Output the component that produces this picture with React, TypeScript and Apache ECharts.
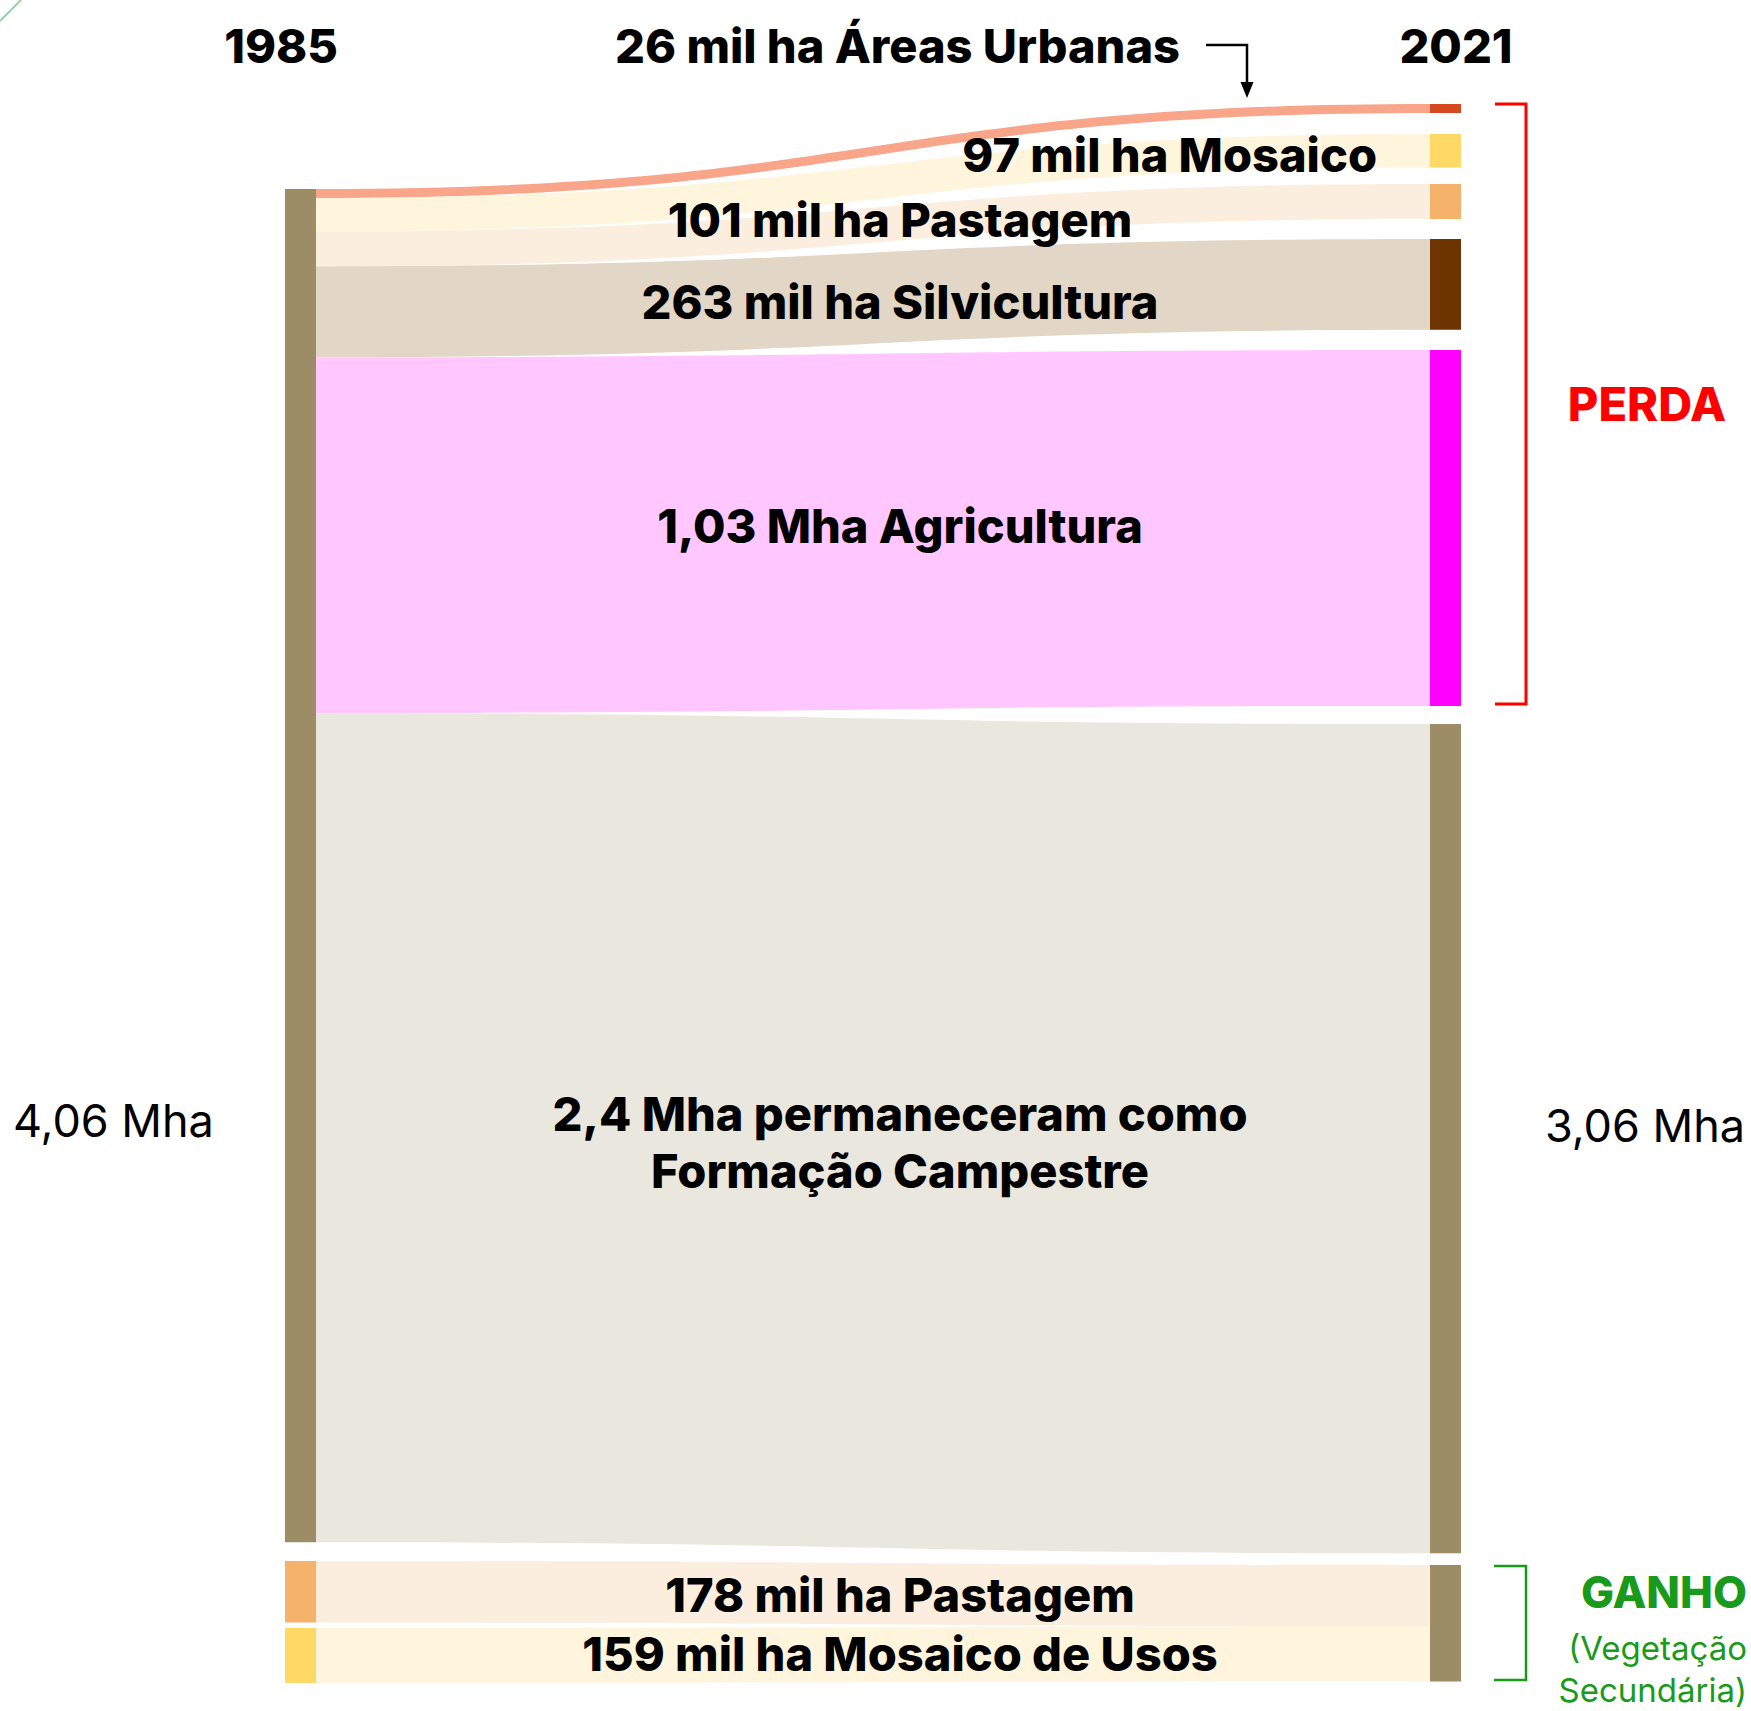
import React, { useEffect, useRef } from "react";
import * as echarts from "echarts";

// ---- Data ----
const nodeNames = [
  "Formação Campestre 1985",
  "Pastagem 1985",
  "Mosaico de Usos 1985",
  "Áreas Urbanas",
  "Mosaico",
  "Pastagem",
  "Silvicultura",
  "Agricultura",
  "Formação Campestre 2021",
  "Vegetação Secundária",
];
const nodeColors = [
  "#9C8D66",
  "#F5B26B",
  "#FFD966",
  "#D5491F",
  "#FFD966",
  "#F5B26B",
  "#6E3500",
  "#FF00FF",
  "#9C8D66",
  "#9C8D66",
];
// flows in thousand hectares (mil ha)
const linkSource = [0, 0, 0, 0, 0, 0, 1, 2];
const linkTarget = [3, 4, 5, 6, 7, 8, 9, 9];
const linkValues = [26, 97, 101, 263, 1030, 2400, 178, 159];
const linkColors = [
  "#F9A58A",
  "#FFF5DC",
  "#FCEEDF",
  "#E2D6C6",
  "#FFC6FF",
  "#EAE7DF",
  "#FCEEDF",
  "#FFF5DC",
];
const flowLabels = [
  "26 mil ha Áreas Urbanas",
  "97 mil ha Mosaico",
  "101 mil ha Pastagem",
  "263 mil ha Silvicultura",
  "1,03 Mha Agricultura",
  "2,4 Mha permaneceram como\nFormação Campestre",
  "178 mil ha Pastagem",
  "159 mil ha Mosaico de Usos",
];
const yearLabels = ["1985", "2021"];
const totalLabels = ["4,06 Mha", "3,06 Mha"];

// ---- Layout (pixels) ----
const W = 1751;
const H = 1711;
const nodeTops = [189, 1561, 1628, 104, 134, 184, 239, 350, 724, 1565];

const FONT = "Inter, 'Noto Sans', sans-serif";

export default function App() {
  const ref = useRef<HTMLDivElement>(null);
  useEffect(() => {
    document.body.style.margin = "0";
    if (!ref.current) return;
    const chart = echarts.init(ref.current, null, { renderer: "svg" });

    const nodes = nodeNames.map((n, i) => ({
      name: n,
      localY: nodeTops[i] / H,
      itemStyle: { color: nodeColors[i], borderWidth: 0 },
    }));
    const links = linkValues.map((v, i) => ({
      source: nodeNames[linkSource[i]],
      target: nodeNames[linkTarget[i]],
      value: v,
      lineStyle: { color: linkColors[i], opacity: 1 },
    }));

    const bold = (text: string, x: number, y: number, align = "center", size = 47, fill = "#000") => ({
      type: "text",
      silent: true,
      z: 100,
      style: {
        text,
        x,
        y,
        fill,
        fontFamily: FONT,
        fontWeight: 800,
        fontSize: size,
        align,
        verticalAlign: "middle",
        lineHeight: 57,
      },
    });
    const regular = (text: string, x: number, y: number, align = "left", size = 45, fill = "#000") => ({
      type: "text",
      silent: true,
      z: 100,
      style: {
        text,
        x,
        y,
        fill,
        fontFamily: FONT,
        fontWeight: "normal",
        fontSize: size,
        align,
        verticalAlign: "middle",
      },
    });

    chart.setOption({
      animation: false,
      backgroundColor: "#ffffff",
      series: [
        {
          type: "sankey",
          left: 285,
          right: W - 1461,
          top: 0,
          bottom: 0,
          nodeWidth: 31,
          nodeGap: 40.2,
          layoutIterations: 0,
          nodeAlign: "justify",
          draggable: false,
          label: { show: false },
          emphasis: { disabled: true },
          lineStyle: { curveness: 0.5, opacity: 1 },
          data: nodes,
          links,
        },
      ],
      graphic: [
        {
          type: "line",
          silent: true,
          z: 100,
          shape: { x1: 0, y1: 21, x2: 21, y2: 0 },
          style: { stroke: "#90D5A9", lineWidth: 2 },
        },
        bold(yearLabels[0], 281, 45),
        bold(yearLabels[1], 1456, 45),
        bold(flowLabels[0], 1180, 45, "right"),
        {
          type: "polyline",
          silent: true,
          z: 100,
          shape: { points: [[1206, 45], [1247, 45], [1247, 88]] },
          style: { stroke: "#000", lineWidth: 2.5, fill: null },
        },
        {
          type: "polygon",
          silent: true,
          z: 100,
          shape: { points: [[1240.5, 82], [1253.5, 82], [1247, 98]] },
          style: { fill: "#000" },
        },
        bold(flowLabels[1], 1377, 154, "right"),
        bold(flowLabels[2], 900, 219),
        bold(flowLabels[3], 900, 301),
        bold(flowLabels[4], 900, 525),
        bold(flowLabels[5], 900, 1142),
        bold(flowLabels[6], 900, 1594),
        bold(flowLabels[7], 900, 1653),
        regular(totalLabels[0], 13, 1120),
        regular(totalLabels[1], 1545, 1125),
        {
          type: "polyline",
          silent: true,
          z: 100,
          shape: { points: [[1495, 104], [1526, 104], [1526, 704], [1495, 704]] },
          style: { stroke: "#FF0000", lineWidth: 3, fill: null },
        },
        {
          type: "polyline",
          silent: true,
          z: 100,
          shape: { points: [[1494, 1566], [1526, 1566], [1526, 1680], [1494, 1680]] },
          style: { stroke: "#1A9A1A", lineWidth: 2.5, fill: null },
        },
        bold("PERDA", 1647, 403, "center", 47, "#FF0000"),
        bold("GANHO", 1747, 1592, "right", 44, "#1A9A1A"),
        regular("(Vegetação", 1747, 1648, "right", 33, "#1A9A1A"),
        regular("Secundária)", 1747, 1690, "right", 33, "#1A9A1A"),
      ],
    });
    return () => chart.dispose();
  }, []);
  return <div ref={ref} style={{ width: W, height: H }} />;
}
